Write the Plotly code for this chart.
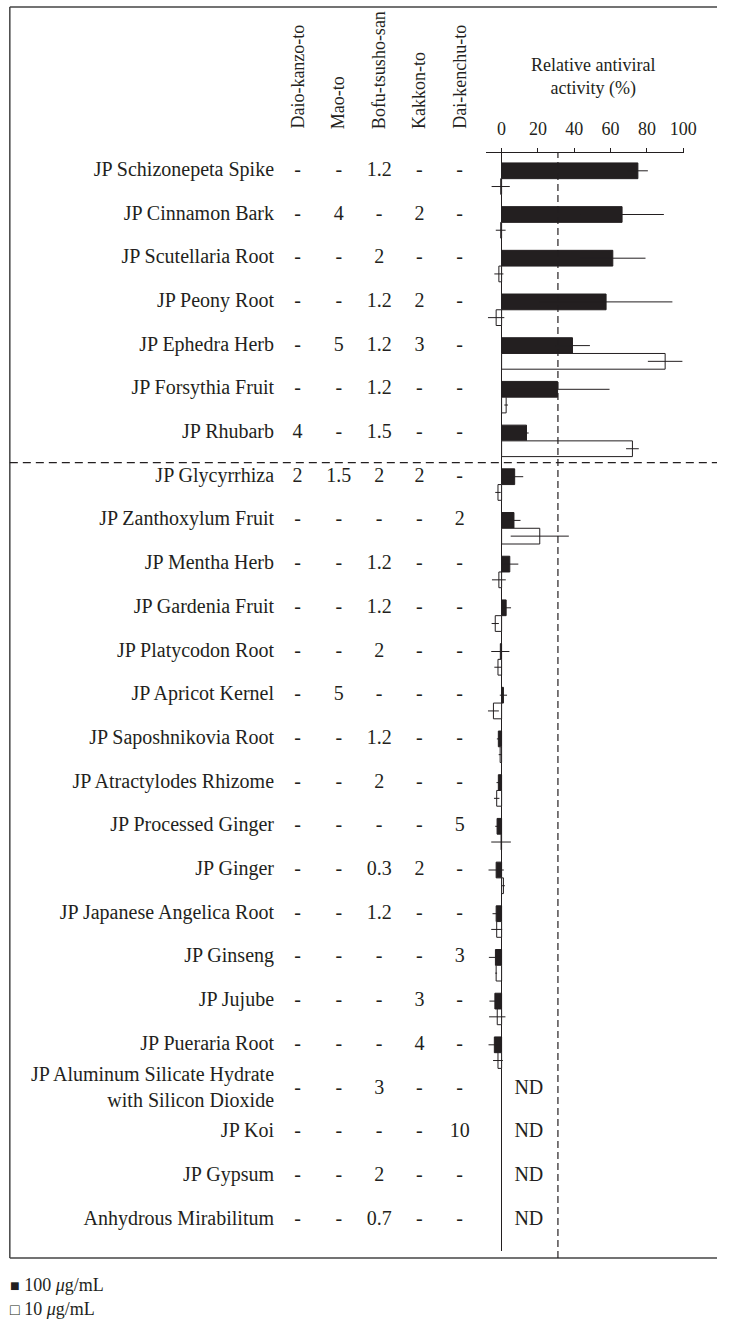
import plotly.graph_objects as go

# ---------------- data ----------------
herbs = [
    "JP Schizonepeta Spike", "JP Cinnamon Bark", "JP Scutellaria Root", "JP Peony Root",
    "JP Ephedra Herb", "JP Forsythia Fruit", "JP Rhubarb", "JP Glycyrrhiza",
    "JP Zanthoxylum Fruit", "JP Mentha Herb", "JP Gardenia Fruit", "JP Platycodon Root",
    "JP Apricot Kernel", "JP Saposhnikovia Root", "JP Atractylodes Rhizome",
    "JP Processed Ginger", "JP Ginger", "JP Japanese Angelica Root", "JP Ginseng",
    "JP Jujube", "JP Pueraria Root",
    "JP Aluminum Silicate Hydrate<br>with Silicon Dioxide", "JP Koi", "JP Gypsum",
    "Anhydrous Mirabilitum",
]

formula_names = ["Daio-kanzo-to", "Mao-to", "Bofu-tsusho-san", "Kakkon-to", "Dai-kenchu-to"]
daio_kanzo_to = ["-", "-", "-", "-", "-", "-", "4", "2", "-", "-", "-", "-", "-", "-", "-", "-", "-", "-", "-", "-", "-", "-", "-", "-", "-"]
mao_to        = ["-", "4", "-", "-", "5", "-", "-", "1.5", "-", "-", "-", "-", "5", "-", "-", "-", "-", "-", "-", "-", "-", "-", "-", "-", "-"]
bofu_tsusho   = ["1.2", "-", "2", "1.2", "1.2", "1.2", "1.5", "2", "-", "1.2", "1.2", "2", "-", "1.2", "2", "-", "0.3", "1.2", "-", "-", "-", "3", "-", "2", "0.7"]
kakkon_to     = ["-", "2", "-", "2", "3", "-", "-", "2", "-", "-", "-", "-", "-", "-", "-", "-", "2", "-", "-", "3", "4", "-", "-", "-", "-"]
dai_kenchu_to = ["-", "-", "-", "-", "-", "-", "-", "-", "2", "-", "-", "-", "-", "-", "-", "5", "-", "-", "3", "-", "-", "-", "10", "-", "-"]

# relative antiviral activity (%) ; None = not determined
act_100 = [75, 66.3, 61.2, 57.5, 39, 30.8, 13.7, 7.2, 6.8, 4.5, 2.5, -0.7, 1, -1.8, -1.8,
           -2.5, -3, -3, -3.4, -3.7, -4, None, None, None, None]
err_100 = [5.5, 23, 18, 36.5, 9.6, 28.6, 1.2, 4.7, 3.6, 4.7, 2.7, 5, 2, 0.8, 1,
           1, 4.2, 2, 3.6, 3, 3.2, None, None, None, None]
act_10 = [-0.5, -0.5, -1.5, -3, 90, 2.5, 72, -2, 21, -1.5, -3.5, -2, -4.5, -0.8, -2.7,
          -0.3, 1, -2.7, -3, -2.4, -2, None, None, None, None]
err_10 = [5, 2.7, 2.5, 4.5, 9.5, 1, 3.5, 1.5, 16, 3.8, 2, 2, 3, 0.8, 1.5,
          5.4, 0.8, 3, 0.5, 4.5, 2.7, None, None, None, None]
nd_label = ["" if v is not None else "ND" for v in act_100]

threshold = 31          # vertical dashed reference line (%)
group_split_after = 6   # index of last herb above the horizontal dashed line
x_ticks = [0, 20, 40, 60, 80, 100]

# ---------------- layout helpers ----------------
W, H = 730, 1329
FONT = "Liberation Serif"
INK = "#231f20"
FS = 20
FS_HEAD = 18


def py(px):  # pixel-from-top -> paper y
    return 1 - px / H


def pxx(px):  # pixel-from-left -> paper x
    return px / W


row0_px, row_step = 170.8, 43.7
ax_top_px, ax_bot_px = 153, 1251
y_range = [(ax_bot_px - row0_px) / row_step, (ax_top_px - row0_px) / row_step]

zero_px, px_per_unit = 510.7, 1.85
bar_left_px, bar_right_px = 495, 696
x2_range = [(bar_left_px - zero_px) / px_per_unit, (bar_right_px - zero_px) / px_per_unit]

col_px = [303, 345, 386, 427, 468]
name_px = 279
rows = list(range(len(herbs)))

fig = go.Figure()

# ---- table text ----
fig.add_trace(go.Scatter(
    x=[name_px] * len(herbs), y=rows, mode="text", text=herbs,
    textposition="middle left", textfont=dict(family=FONT, size=FS, color=INK),
    xaxis="x", yaxis="y", showlegend=False, hoverinfo="skip"))
for cx, col in zip(col_px, [daio_kanzo_to, mao_to, bofu_tsusho, kakkon_to, dai_kenchu_to]):
    fig.add_trace(go.Scatter(
        x=[cx] * len(col), y=rows, mode="text", text=col,
        textposition="middle center", textfont=dict(family=FONT, size=FS, color=INK),
        xaxis="x", yaxis="y", showlegend=False, hoverinfo="skip"))

# ND labels
fig.add_trace(go.Scatter(
    x=[15] * len(nd_label), y=rows, mode="text", text=nd_label,
    textposition="middle center", textfont=dict(family=FONT, size=FS, color=INK),
    xaxis="x2", yaxis="y", showlegend=False, hoverinfo="skip"))

# ---- bars ----
bw = 0.36
fig.add_trace(go.Bar(
    name="100 μg/mL", orientation="h", x=act_100, y=rows,
    width=bw, offset=-bw / 2, marker=dict(color=INK, line=dict(color=INK, width=1)),
    error_x=dict(type="data", array=err_100, visible=True, color=INK, thickness=1, width=0),
    xaxis="x2", yaxis="y", showlegend=False))
fig.add_trace(go.Bar(
    name="10 μg/mL", orientation="h", x=act_10, y=rows,
    width=bw, offset=bw / 2, marker=dict(color="white", line=dict(color=INK, width=1)),
    error_x=dict(type="data", array=err_10, visible=True, color=INK, thickness=1, width=0),
    xaxis="x2", yaxis="y", showlegend=False))

shapes = []
# frame (top, left, bottom) - runs off the right edge like the reference
frame_right = W
for (x0, y0, x1, y1) in [(10, 7, frame_right, 7), (10, 7, 10, 1258), (10, 1258, frame_right, 1258)]:
    shapes.append(dict(type="line", xref="paper", yref="paper", x0=pxx(x0), x1=pxx(x1),
                       y0=py(y0), y1=py(y1), line=dict(color="#444", width=1.5)))
# vertical dashed threshold
shapes.append(dict(type="line", xref="x2", yref="paper", x0=threshold, x1=threshold,
                   y0=py(1258), y1=py(ax_top_px), line=dict(color=INK, width=1.2, dash="7px,4px")))
# horizontal dashed group separator
sep = group_split_after + 0.68
shapes.append(dict(type="line", xref="paper", yref="y", x0=pxx(10), x1=pxx(frame_right), y0=sep, y1=sep,
                   line=dict(color=INK, width=1.2, dash="8px,5px")))

annotations = []
for cx, name in zip(col_px, formula_names):
    annotations.append(dict(text=name, xref="paper", yref="paper", x=pxx(cx), y=py(131),
                            xanchor="center", yanchor="bottom", textangle=-90, showarrow=False,
                            font=dict(family=FONT, size=FS_HEAD, color=INK)))
annotations.append(dict(text="Relative antiviral<br>activity (%)", xref="paper", yref="paper",
                        x=pxx(604), y=py(77), xanchor="center", yanchor="middle", showarrow=False,
                        font=dict(family=FONT, size=FS_HEAD, color=INK)))
annotations.append(dict(text="<span style='font-size:16px'>■</span> 100 <i>μ</i>g/mL", xref="paper",
                        yref="paper", x=pxx(8), y=py(1285), xanchor="left", yanchor="middle",
                        showarrow=False, font=dict(family=FONT, size=18, color=INK)))
annotations.append(dict(text="<span style='font-size:16px'>□</span> 10 <i>μ</i>g/mL", xref="paper",
                        yref="paper", x=pxx(8), y=py(1309), xanchor="left", yanchor="middle",
                        showarrow=False, font=dict(family=FONT, size=18, color=INK)))

fig.update_layout(
    width=W, height=H, margin=dict(l=0, r=0, t=0, b=0), autosize=False,
    paper_bgcolor="white", plot_bgcolor="rgba(0,0,0,0)",
    font=dict(family=FONT, size=FS, color=INK),
    barmode="overlay", showlegend=False,
    xaxis=dict(domain=[0, 1], range=[0, W], visible=False, anchor="y", fixedrange=True),
    xaxis2=dict(domain=[pxx(bar_left_px), pxx(bar_right_px)], range=x2_range, anchor="y",
                side="top", showline=True, linecolor=INK, linewidth=1, ticks="outside",
                ticklen=4, tickwidth=1, tickcolor=INK, tickvals=x_ticks, showgrid=False,
                zeroline=True, zerolinecolor=INK, zerolinewidth=1,
                tickfont=dict(family=FONT, size=FS_HEAD, color=INK), ticklabelstandoff=6),
    yaxis=dict(domain=[py(ax_bot_px), py(ax_top_px)], range=y_range, visible=False,
               anchor="x", showgrid=False, zeroline=False),
    shapes=shapes, annotations=annotations,
)

fig.write_html(
    "out.html",
    config={"displayModeBar": False, "responsive": False},
    post_script=(
        "var s=document.createElement('style');"
        "s.innerHTML='html,body{margin:0;padding:0;overflow:hidden;}"
        "::-webkit-scrollbar{display:none;width:0;height:0;}';"
        "document.head.appendChild(s);"
    ),
)
